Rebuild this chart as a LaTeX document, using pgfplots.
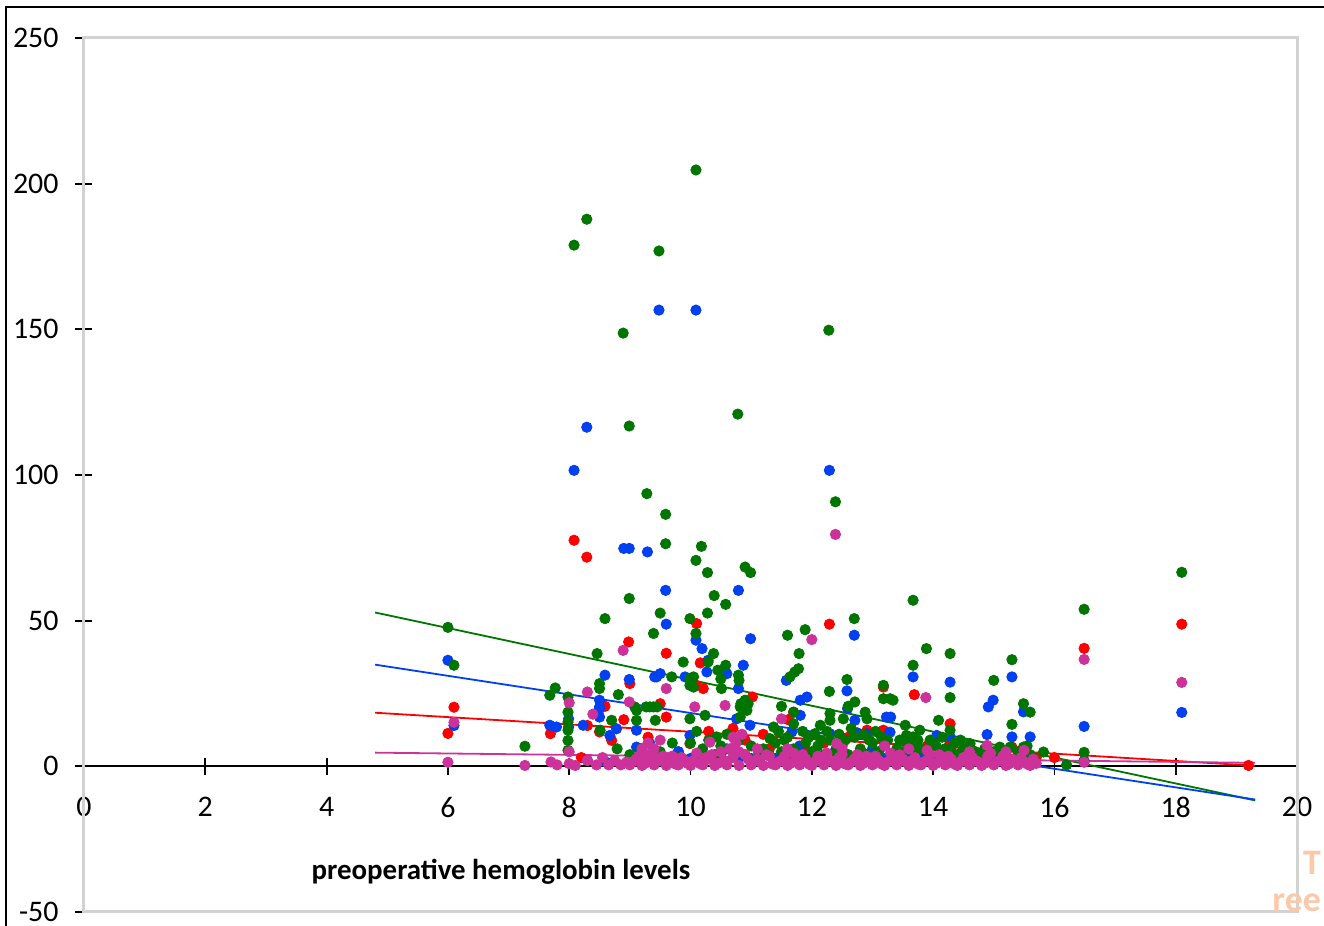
\documentclass[border=0pt]{standalone}
\usepackage{fontspec}
\setmainfont{Carlito}
\usepackage{pgfplots}
\pgfplotsset{compat=1.18}
\definecolor{colG}{RGB}{0,118,0}
\definecolor{colB}{RGB}{0,64,240}
\definecolor{colR}{RGB}{255,0,0}
\definecolor{colM}{RGB}{204,50,153}
\definecolor{colFrame}{RGB}{210,210,210}
\definecolor{colWM}{RGB}{252,200,170}
\begin{document}
\begin{tikzpicture}
\begin{axis}[
  scale only axis, width=606.5bp, height=437bp,
  xmin=0, xmax=20, ymin=-50, ymax=250,
  xtick={0,2,...,20}, ytick={-50,0,...,250},
  axis x line*=middle, axis y line*=left,
  hide obscured x ticks=false, hide obscured y ticks=false,
  tick align=center, major tick length=8.5bp,
  tick style={black, line width=0.9bp},
  axis line style={black, line width=0.9bp},
  /pgf/number format/assume math mode=true,
  ticklabel style={font=\fontsize{15}{18}\selectfont},
  xticklabel style={anchor=north, yshift=-7.5bp},
  yticklabel style={anchor=east, xshift=-5bp},
  clip=false,
  every axis plot/.append style={only marks, mark=*, mark size=2.6pt},
]
\coordinate (SW) at (rel axis cs:0,0);
\coordinate (NE) at (rel axis cs:1,1);
\draw[colFrame, line width=1.5bp] (rel axis cs:0,0) rectangle (rel axis cs:1,1);
% red
\addplot[colR, mark options={draw=colR, fill=colR}] coordinates {
(6.0,11.3)(6.1,20.3)(7.69,11.2)(8.08,77.6)(8.29,71.8)(8.5,11.8)(8.59,20.6)(8.7,8.9)(8.98,42.7)(9.0,28.4)(9.5,21.5)(9.6,38.8)(9.6,16.9)(9.99,7.8)(10.1,49)(10.1,27.8)(10.16,35.5)(10.21,26.7)(11.02,23.8)(11.61,16.0)(11.7,18.6)(12.29,48.8)(12.91,12.4)(13.18,27.2)(13.18,12.4)(13.69,24.6)(14.28,14.6)(14.28,8)(15.3,6.6)(16.0,3)(16.49,40.5)(18.1,48.8)(19.2,0.3)
(8.2,3)(9.3,10)(9.8,5)(10.3,12)(10.5,4)(10.9,9)(11.3,6)(11.9,5)(12.2,8)(12.6,10)(13.0,5)(13.5,4)(13.9,7)(14.6,5)(15.1,4)(15.7,3)(8.3,14)(8.9,16)(10.7,13)(11.2,11)
};
% blue
\addplot[colB, mark options={draw=colB, fill=colB}] coordinates {
(6.0,36.4)(6.1,14)(7.68,14.1)(7.79,13.5)(7.99,16.3)(7.99,13.5)(8.08,101.6)(8.23,14.1)(8.29,116.4)(8.5,22.7)(8.5,20.4)(8.5,19.8)(8.5,16.9)(8.59,31.3)(8.67,10.6)(8.78,12.9)(8.9,74.8)(8.99,74.8)(8.99,29.8)(9.11,12.4)(9.11,6.6)(9.29,73.6)(9.33,7.8)(9.41,30.7)(9.44,30.7)(9.48,156.6)(9.5,31.8)(9.59,60.4)(9.6,48.8)(9.91,30.7)(9.99,10.6)(10.09,156.6)(10.09,43.3)(10.19,40.4)(10.27,32.4)(10.29,36.4)(10.6,31.8)(10.76,16.3)(10.79,60.4)(10.79,26.7)(10.87,34.7)(10.98,14.1)(10.99,43.8)(11.58,29.5)(11.67,11.8)(11.81,22.7)(11.81,17.5)(11.92,23.8)(12.29,101.6)(12.3,11.2)(12.58,25.9)(12.59,19.8)(12.7,45.0)(12.71,15.8)(12.75,11.5)(12.91,11.2)(13.23,16.9)(13.3,16.9)(13.29,11.7)(13.67,30.7)(14.06,10.6)(14.28,28.9)(14.28,10.1)(14.64,2.1)(14.89,10.9)(14.91,20.4)(14.99,22.7)(15.3,30.7)(15.3,10.1)(15.49,18.7)(15.6,10.1)(16.49,13.7)(18.1,18.5)
(9.6,3)(9.8,5)(10.0,2.7)(10.2,2.7)(10.4,2.7)(10.6,6)(10.8,2.7)(11.0,2.7)(11.2,5)(11.4,2.7)(11.6,2.7)(11.8,7)(12.0,2.7)(12.2,2.7)(12.4,6)(12.6,2.7)(12.8,2.7)(13.0,6)(13.2,2.7)(13.4,2.7)(13.6,5)(13.8,2.7)(14.0,2.7)(14.2,6)(14.4,2.7)(15.0,2.1)(15.5,1.5)(16.49,2)(8.3,2)(8.6,1.5)(9.0,1)
};
% green
\addplot[colG, mark options={draw=colG, fill=colG}] coordinates {
(6.0,47.7)(6.1,34.7)(7.27,6.9)(7.68,24.4)(7.77,26.9)(7.98,23.8)(7.98,18.6)(7.98,15.2)(7.98,12.4)(7.98,8.9)(7.98,5.5)(8.08,178.9)(8.29,187.8)(8.46,38.7)(8.5,28.4)(8.5,26.7)(8.51,12.4)(8.59,50.7)(8.7,15.8)(8.79,6.0)(8.81,24.6)(8.89,148.7)(8.99,116.8)(8.99,57.6)(9.08,20.4)(9.11,19.2)(9.11,15.8)(9.19,6.0)(9.27,20.4)(9.33,20.4)(9.39,20.4)(9.45,20.4)(9.28,93.6)(9.39,45.6)(9.42,15.8)(9.48,176.9)(9.5,52.6)(9.59,86.5)(9.59,76.4)(9.69,30.7)(9.88,35.8)(9.99,50.7)(9.99,30.1)(9.99,27.8)(9.99,16.3)(10.05,27.2)(10.05,30.7)(10.09,204.7)(10.09,70.7)(10.09,45.6)(10.18,75.5)(10.24,17.5)(10.28,66.5)(10.28,52.6)(10.29,35.8)(10.38,38.7)(10.39,58.6)(10.43,10.1)(10.45,33)(10.5,30)(10.51,26.7)(10.58,55.6)(10.58,34.7)(10.78,120.9)(10.79,31.3)(10.8,29.5)(10.82,20.4)(10.82,16.9)(10.83,21.5)(10.9,68.4)(10.9,22.7)(10.93,19.2)(10.95,21.5)(10.99,66.5)(11.31,9.5)(11.37,13.5)(11.5,20.6)(11.6,45.0)(11.64,30.7)(11.7,18.6)(11.7,14.6)(11.72,32.4)(11.78,33.5)(11.79,38.7)(11.89,46.9)(12.05,11.2)(12.14,14.1)(12.28,149.7)(12.29,25.7)(12.3,18.1)(12.3,15.8)(12.39,90.8)(12.52,16.3)(12.58,29.8)(12.6,20.6)(12.7,50.7)(12.71,22.1)(12.88,18.6)(12.91,16.3)(13.18,27.8)(13.18,23.2)(13.29,23.2)(13.34,22.7)(13.54,14.1)(13.56,10.6)(13.67,57.0)(13.67,34.7)(13.67,10.1)(13.78,12.4)(13.89,40.4)(14.09,15.8)(14.28,38.7)(14.28,23.6)(14.28,12.4)(14.61,7.8)(14.61,6.0)(15.0,29.5)(15.1,6.6)(15.27,6.6)(15.3,36.6)(15.3,14.4)(15.49,21.5)(15.49,6.6)(15.6,18.6)(15.82,4.9)(16.49,53.9)(16.49,4.8)(18.1,66.6)
(10.0,8)(10.1,12)(10.2,6)(10.3,9)(10.4,4)(10.5,7)(10.6,11)(10.7,5)(10.8,9)(10.9,4)(11.0,7)(11.1,3)(11.2,6)(11.3,4)(11.4,8)(11.5,5)(11.6,10)(11.7,6)(11.8,4)(11.9,8)(12.0,5)(12.1,7)(12.2,4)(12.3,9)(12.4,5)(12.5,7)(12.6,4)(12.7,10)(12.8,6)(12.9,4)(13.0,8)(13.1,5)(13.2,7)(13.3,4)(13.4,6)(13.5,5)(13.6,8)(13.7,4)(13.8,6)(13.9,5)(14.0,8)(14.1,4)(14.2,6)(14.3,5)(14.4,4)(14.5,6)(14.6,3)(14.7,5)(14.8,4)(15.0,5)(15.2,4)(15.4,5)(15.6,4)(9.0,4)(9.2,3)(9.5,5)(9.7,8)(9.8,3)(16.2,0.5)
(11.45,12)(11.55,9)(11.85,12)(11.95,10)(12.15,9)(12.25,12)(12.45,11)(12.55,9)(12.65,13)(12.85,11)(12.95,9)(13.05,12)(13.15,10)(13.25,9)(13.45,9)(13.65,7)(13.75,9)(13.95,9)(14.05,7)(14.15,10)(14.35,8)(14.45,9)(14.55,5)(14.85,6)(14.95,5)(15.15,4)(15.45,3.5)(15.55,7)(15.65,3)
};
% magenta
\addplot[colM, mark options={draw=colM, fill=colM}] coordinates {
(6.0,1.4)(6.1,15.1)(7.27,0.3)(7.7,1.5)(7.8,0.5)(8.0,21.8)(8.0,0.9)(8.0,5)(8.1,0.3)(8.3,25.5)(8.39,17.9)(8.3,2)(8.45,0.5)(8.55,3)(8.65,0.5)(8.75,2)(8.85,0.5)(8.95,1.5)(8.89,39.8)(8.99,22.1)(9.6,26.7)(10.07,20.4)(10.32,8.3)(10.57,20.9)(11.5,16.3)(12.0,43.5)(12.39,79.6)(12.41,7.8)(13.88,23.6)(14.89,7.2)(16.49,36.7)(16.49,1.4)(18.1,28.8)
(9.0,0.5)(9.1,2.5)(9.2,0.3)(9.3,4.0)(9.4,0.5)(9.5,2.0)(9.6,0.3)(9.7,3.5)(9.8,0.5)(9.9,2.0)(10.0,0.3)(10.1,4.5)(10.2,0.5)(10.3,2.5)(10.4,0.3)(10.5,5.0)(10.6,0.5)(10.7,3.0)(10.8,0.3)(10.9,4.0)(11.0,0.5)(11.1,2.5)(11.2,0.3)(11.3,3.5)(11.4,0.5)(11.5,2.0)(11.6,0.3)(11.7,4.5)(11.8,0.5)(11.9,2.5)(12.0,0.3)(12.1,3.5)(12.2,0.5)(12.3,2.0)(12.4,0.3)(12.5,4.0)(12.6,0.5)(12.7,2.5)(12.8,0.3)(12.9,3.5)(13.0,0.5)(13.1,2.0)(13.2,0.3)(13.3,4.5)(13.4,0.5)(13.5,2.5)(13.6,0.3)(13.7,3.0)(13.8,0.5)(13.9,2.0)(14.0,0.3)(14.1,4.0)(14.2,0.5)(14.3,2.5)(14.4,0.3)(14.5,3.0)(14.6,0.5)(14.7,2.0)(14.8,0.3)(14.9,3.5)(15.0,0.5)(15.1,2.0)(15.2,0.3)(15.3,2.5)(15.4,0.5)(15.5,1.5)(15.6,0.3)(15.7,1.0)
(10.05,2)(10.25,3)(10.55,2)(10.65,6)(10.75,8)(10.85,11)(10.7,10)(10.8,5)(9.3,8)(9.4,6)(9.5,9)(9.2,6)(9.45,3)(11.15,1.5)(11.45,1.5)(11.75,1.5)(12.05,1.5)(12.35,1.5)(12.65,1.5)(12.95,1.5)(13.25,1.5)(13.55,1.5)(13.85,1.5)(14.15,1.5)(14.45,1.5)(14.75,1.5)(15.05,1.5)(15.35,1.5)(11.1,6)(11.6,6)(12.5,6)(13.2,7)(13.6,6)(13.9,5.5)(14.6,5)(15.2,5)(15.5,5.5)
(9.05,1.5)(9.15,3.5)(9.25,1.0)(9.35,2.5)(9.55,3.5)(9.65,1.5)(9.75,0.8)(9.85,3.0)(9.95,1.0)(10.15,1.0)(10.35,4.0)(10.45,1.0)(10.95,2.5)(11.25,4.0)(11.35,0.8)(11.55,3.5)(11.65,1.0)(11.85,4.0)(11.95,0.8)(12.15,2.5)(12.25,4.5)(12.45,3.0)(12.55,0.8)(12.75,4.0)(12.85,1.0)(13.05,3.5)(13.15,0.8)(13.35,2.5)(13.45,4.0)(13.65,2.0)(13.75,0.8)(13.95,4.0)(14.05,1.0)(14.25,3.5)(14.35,0.8)(14.55,2.5)(14.65,3.0)(14.85,1.0)(14.95,4.5)(15.15,3.5)(15.25,0.8)(15.45,3.0)(15.55,0.8)(15.65,2.5)
};
% trend lines
\addplot[colG, no marks, line width=0.9bp, sharp plot] coordinates {(4.8,52.8)(19.31,-11.7)};
\addplot[colB, no marks, line width=0.9bp, sharp plot] coordinates {(4.8,34.9)(19.31,-11.4)};
\addplot[colR, no marks, line width=0.9bp, sharp plot] coordinates {(4.8,18.4)(19.31,0.2)};
\addplot[colM, no marks, line width=0.9bp, sharp plot] coordinates {(4.8,4.7)(19.31,1.2)};
\node[font=\fontsize{14.5}{17}\selectfont\bfseries] at (axis cs:6.876,-36.06) {preoperative hemoglobin levels};
\node[colWM, font=\fontsize{18}{19}\selectfont\bfseries, align=right, anchor=south east, inner sep=0pt] at (axis cs:20.4,-50.2) {T\\ree};
\end{axis}
\draw[black, line width=1bp] ([shift={(-38.75bp,-10bp)}]SW) |- ([shift={(20bp,15.5bp)}]NE);
\pgfresetboundingbox
\path[use as bounding box] ([shift={(-42bp,-7bp)}]SW) rectangle ([shift={(13.5bp,19bp)}]NE);
\end{tikzpicture}
\end{document}
